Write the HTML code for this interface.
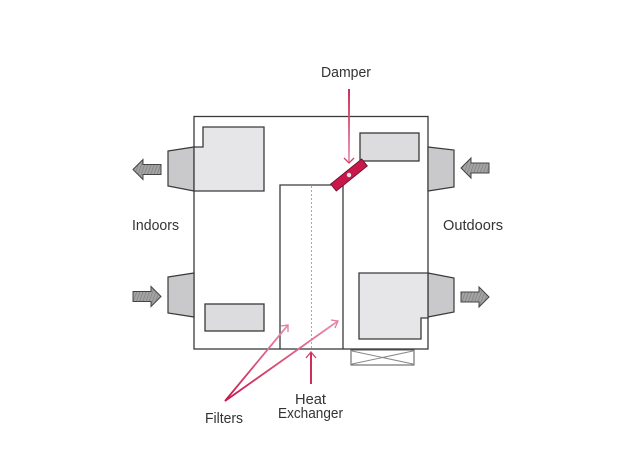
<!DOCTYPE html>
<html><head><meta charset="utf-8"><style>html,body{margin:0;padding:0;background:#fff}svg{display:block}</style></head><body>
<svg width="624" height="449" viewBox="0 0 624 449" xmlns="http://www.w3.org/2000/svg">
<defs>
<pattern id="h" width="3" height="3" patternUnits="userSpaceOnUse" patternTransform="rotate(20)"><rect width="3" height="3" fill="#a3a3a3"/><line x1="0" y1="0" x2="0" y2="3" stroke="#777" stroke-width="1.1"/></pattern>
<linearGradient id="g1" gradientUnits="userSpaceOnUse" x1="225" y1="401" x2="288" y2="325"><stop offset="0" stop-color="#c8174a"/><stop offset="1" stop-color="#e890aa"/></linearGradient>
<linearGradient id="g2" gradientUnits="userSpaceOnUse" x1="225" y1="401" x2="338" y2="321"><stop offset="0" stop-color="#c8174a"/><stop offset="1" stop-color="#e890aa"/></linearGradient>
<linearGradient id="g3" gradientUnits="userSpaceOnUse" x1="0" y1="89" x2="0" y2="160"><stop offset="0" stop-color="#c8174a"/><stop offset="1" stop-color="#e890aa"/></linearGradient>
</defs>
<g fill="none" stroke="#3a3a3a" stroke-width="1.3">
<rect x="194" y="116.5" width="234" height="232.5"/>
<polyline points="280,349 280,185 343,185 343,349"/>
</g>
<line x1="311.5" y1="186" x2="311.5" y2="349" stroke="#aaa" stroke-width="1" stroke-dasharray="2,2"/>
<g fill="#c9c8ca" stroke="#3a3a3a" stroke-width="1.2">
<polygon points="168,151 194,147 194,191 168,186"/>
<polygon points="168,277 194,273 194,317 168,313"/>
<polygon points="428,147 454,150 454,187 428,191"/>
<polygon points="428,273 454,278 454,312 428,317"/>
</g>
<g stroke="#3a3a3a" stroke-width="1.3">
<polygon points="203,127 264,127 264,191 194,191 194,147 203,147" fill="#e6e5e8"/>
<rect x="205" y="304" width="59" height="27" fill="#dcdbdd"/>
<rect x="360" y="133" width="59" height="28" fill="#dcdbdd"/>
<polygon points="359,273 428,273 428,318 421,318 421,339 359,339" fill="#e6e5e8"/>
</g>
<g fill="none" stroke="#555" stroke-width="1">
<rect x="351" y="350" width="63" height="15"/>
<path d="M352,351 L413,364 M413,351 L352,364" stroke="#888"/>
</g>
<g fill="url(#h)" stroke="#444" stroke-width="1">
<polygon points="133,169.5 143,159.5 143,164.5 161,164.5 161,174.5 143,174.5 143,179.5"/>
<polygon points="161,296.5 151,286.5 151,291.5 133,291.5 133,301.5 151,301.5 151,306.5"/>
<polygon points="461,168 471,158 471,163 489,163 489,173 471,173 471,178"/>
<polygon points="489,297 479,287 479,292 461,292 461,302 479,302 479,307"/>
</g>
<line x1="349" y1="89" x2="349" y2="162" stroke="url(#g3)" stroke-width="1.8"/>
<polyline points="344,158 349,163 354,158" fill="none" stroke="#d2406a" stroke-width="1.3"/>
<g transform="translate(349,175) rotate(-39)">
<rect x="-20" y="-4.5" width="40" height="9" fill="#c8174a" stroke="#6a0a28" stroke-width="0.8"/>
<circle cx="0" cy="0" r="2.2" fill="#dfe8ea"/>
</g>
<line x1="225" y1="401" x2="288" y2="325" stroke="url(#g1)" stroke-width="1.8"/>
<polyline points="281,326 288,325 288,332" fill="none" stroke="#e07c9b" stroke-width="1.3"/>
<line x1="225" y1="401" x2="338" y2="321" stroke="url(#g2)" stroke-width="1.8"/>
<polyline points="331,320 338,321 335,328" fill="none" stroke="#e07c9b" stroke-width="1.3"/>
<line x1="311" y1="384" x2="311" y2="353" stroke="#c8174a" stroke-width="1.8"/>
<polyline points="306,358 311,352 316,358" fill="none" stroke="#d2406a" stroke-width="1.3"/>
<g font-family="Liberation Sans, sans-serif" font-size="15" fill="#333">
<text x="321" y="77" textLength="50" lengthAdjust="spacingAndGlyphs">Damper</text>
<text x="132" y="230" textLength="47" lengthAdjust="spacingAndGlyphs">Indoors</text>
<text x="443" y="230" textLength="60" lengthAdjust="spacingAndGlyphs">Outdoors</text>
<text x="205" y="423" textLength="38" lengthAdjust="spacingAndGlyphs">Filters</text>
<text x="295" y="404" textLength="31" lengthAdjust="spacingAndGlyphs">Heat</text>
<text x="278" y="418" textLength="65" lengthAdjust="spacingAndGlyphs">Exchanger</text>
</g>
</svg>
</body></html>
